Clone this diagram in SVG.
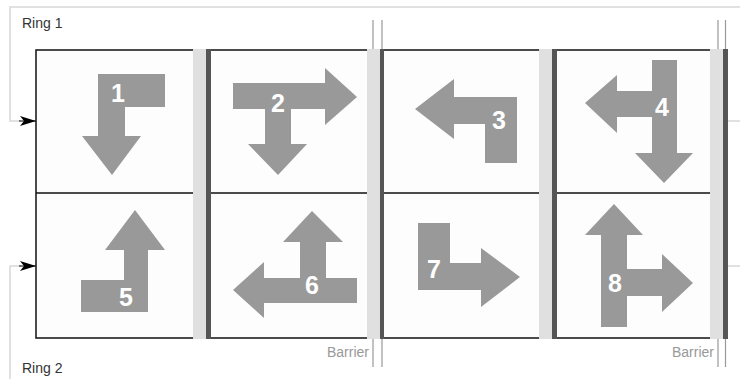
<svg xmlns="http://www.w3.org/2000/svg" width="740" height="379" viewBox="0 0 740 379">
<defs>
<marker id="ah" viewBox="0 0 16 10" refX="16" refY="5" markerWidth="16" markerHeight="10" markerUnits="userSpaceOnUse" orient="auto">
<path d="M0,0 L16,5 L0,10 L4,5 z" fill="#000"/>
</marker>
<style>
.ring{fill:none;stroke:#d8d8d8;stroke-width:1.5}
.cell{fill:#fdfdfd}
.grid{stroke:#111;stroke-width:1.5;fill:none}
.lbar{fill:#e0e0e0}
.dbar{fill:#555}
.bl{stroke:#999;stroke-width:1.2;fill:none}
.arr{fill:#999}
.num{font-family:"Liberation Sans",Arial,sans-serif;font-weight:bold;font-size:25px;fill:#fff;text-anchor:middle}
.lab{font-family:"Liberation Sans",Arial,sans-serif;font-size:14px;fill:#333}
.bar{font-family:"Liberation Sans",Arial,sans-serif;font-size:14px;fill:#999;text-anchor:end}
</style>
</defs>
<rect width="740" height="379" fill="#fff"/>
<g id="connectors">
<path class="ring" d="M740,7 H10 V121 H21"/>
<path class="ring" d="M10,379 V266 H21"/>
<line x1="19" y1="121" x2="36" y2="121" stroke="#000" stroke-width="1" marker-end="url(#ah)"/>
<line x1="19" y1="266" x2="36" y2="266" stroke="#000" stroke-width="1" marker-end="url(#ah)"/>
<path class="ring" d="M728,121 H740 M728,266 H740"/>
</g>
<g id="labels">
<text class="lab" x="22" y="28">Ring 1</text>
<text class="lab" x="22" y="373">Ring 2</text>
</g>
<g id="cells">
<rect class="cell" x="36" y="50" width="157" height="288"/>
<rect class="cell" x="211" y="50" width="156" height="288"/>
<rect class="cell" x="384" y="50" width="155" height="288"/>
<rect class="cell" x="557" y="50" width="153" height="288"/>
<path class="grid" d="M36,50 H193 M36,193 H193 M36,338 H193 M36,49.25 V338.75 M211,50 H367 M211,193 H367 M211,338 H367 M384,50 H539 M384,193 H539 M384,338 H539 M557,50 H710 M557,193 H710 M557,338 H710"/>
</g>
<g id="barriers">
<rect class="lbar" x="193" y="49" width="13" height="290"/>
<rect class="dbar" x="206" y="49" width="5" height="290"/>
<rect class="lbar" x="367" y="49" width="13" height="290"/>
<rect class="dbar" x="380" y="49" width="4" height="290"/>
<rect class="lbar" x="539" y="49" width="13" height="290"/>
<rect class="dbar" x="552" y="49" width="5" height="290"/>
<rect class="lbar" x="710" y="49" width="13" height="290"/>
<rect class="dbar" x="723" y="49" width="5" height="290"/>
<path class="bl" d="M373,20 V49 M382,20 V49 M373,339 V367 M382,339 V367 M718,20 V49 M725.5,20 V49 M718,339 V367 M725.5,339 V367"/>
<text class="bar" x="369" y="357">Barrier</text>
<text class="bar" x="714" y="357">Barrier</text>
</g>
<g id="n1">
<polygon class="arr" points="98,74 165,74 165,107 125,107 125,136 141,136 112,175 82,136 98,136"/>
<text class="num" x="118" y="102">1</text>
</g>
<g id="n2">
<polygon class="arr" points="233,83 325,83 325,68 357,97 325,125 325,109 291,109 291,144 307,144 278,175 248,144 265,144 265,109 233,109"/>
<text class="num" x="278" y="112">2</text>
</g>
<g id="n3">
<polygon class="arr" points="415,109 454,79 454,97 517,97 517,163 485,163 485,124 454,124 454,139"/>
<text class="num" x="499" y="129">3</text>
</g>
<g id="n4">
<polygon class="arr" points="652,60 677,60 677,153 693,153 664,183 635,153 652,153 652,117 617,117 617,133 585,103 617,75 617,91 652,91"/>
<text class="num" x="662" y="116">4</text>
</g>
<g id="n5">
<polygon class="arr" points="135,210 165,250 148,250 148,312 81,312 81,280 124,280 124,250 105,250"/>
<text class="num" x="126" y="306">5</text>
</g>
<g id="n6">
<polygon class="arr" points="312,211 343,242 326,242 326,278 357,278 357,303 264,303 264,318 233,290 264,262 264,278 300,278 300,242 283,242"/>
<text class="num" x="312" y="294">6</text>
</g>
<g id="n7">
<polygon class="arr" points="418,223 450,223 450,263 481,263 481,248 520,277 481,307 481,290 418,290"/>
<text class="num" x="434" y="278">7</text>
</g>
<g id="n8">
<polygon class="arr" points="614,204 643,235 627,235 627,269 662,269 662,254 693,283 662,312 662,296 627,296 627,327 601,327 601,235 585,235"/>
<text class="num" x="615" y="292">8</text>
</g>
</svg>
